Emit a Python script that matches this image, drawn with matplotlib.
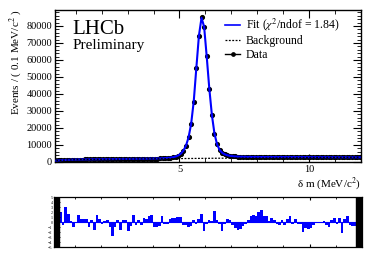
import numpy as np
import matplotlib
matplotlib.use('Agg')
import matplotlib.pyplot as plt
from matplotlib.lines import Line2D
from matplotlib.patches import Rectangle
from matplotlib.ticker import MultipleLocator

plt.rcParams['font.family'] = 'serif'
plt.rcParams['font.serif'] = ['Liberation Serif', 'DejaVu Serif']
plt.rcParams['mathtext.fontset'] = 'stix'

# binning: 0.1 MeV bins from 0.2 to 12.0
bin_lo = 0.2
bin_hi = 12.0
bin_width = 0.1
centers = np.arange(bin_lo + bin_width / 2, bin_hi, bin_width)

data_counts = [
    720, 860, 1030, 1070, 1180, 1200, 1290, 1300,
    1330, 1390, 1390, 1450, 1440, 1490, 1480, 1540, 1530, 1580,
    1560, 1610, 1600, 1650, 1630, 1680, 1660, 1710, 1700, 1740,
    1720, 1770, 1750, 1800, 1790, 1830, 1850, 1850, 1900, 1900,
    1970, 1980, 2070, 2100, 2230, 2310, 2520, 2730, 3160, 3720,
    4850, 6550, 9600, 14350, 22500, 35500, 55400, 74100, 85000, 79400,
    62300, 43000, 27800, 16500, 10400, 6950, 5330, 4370, 3900, 3540,
    3380, 3190, 3130, 3020, 3010, 2930, 2940, 2880, 2900, 2860,
    2880, 2840, 2860, 2830, 2850, 2810, 2840, 2810, 2830, 2800,
    2830, 2790, 2820, 2780, 2810, 2780, 2800, 2770, 2790, 2760,
    2790, 2750, 2780, 2740, 2770, 2740, 2760, 2730, 2750, 2720,
    2750, 2710, 2740, 2700, 2730, 2700, 2720, 2690, 2710, 2680,
]

fit_counts = [
    700, 880, 1000, 1090, 1160, 1220, 1270, 1310,
    1345, 1375, 1405, 1430, 1455, 1478, 1500, 1520, 1540, 1560,
    1578, 1596, 1613, 1630, 1646, 1662, 1678, 1693, 1708, 1723,
    1738, 1753, 1768, 1784, 1800, 1818, 1838, 1860, 1886, 1916,
    1952, 1996, 2050, 2120, 2210, 2330, 2500, 2750, 3130, 3750,
    4800, 6600, 9500, 14400, 22400, 35600, 55200, 74300, 84800, 79600,
    62100, 43200, 27600, 16600, 10300, 7000, 5300, 4400, 3880, 3560,
    3350, 3210, 3110, 3040, 2990, 2950, 2920, 2900, 2885, 2872,
    2862, 2854, 2847, 2841, 2836, 2831, 2827, 2823, 2819, 2815,
    2811, 2807, 2803, 2799, 2795, 2791, 2787, 2783, 2779, 2775,
    2771, 2767, 2763, 2759, 2755, 2751, 2747, 2743, 2739, 2735,
    2731, 2727, 2723, 2719, 2715, 2711, 2707, 2703, 2699, 2695,
]

bkg_counts = [
    650, 830, 950, 1040, 1110, 1170, 1220, 1260,
    1295, 1325, 1355, 1380, 1405, 1428, 1450, 1470, 1490, 1510,
    1528, 1546, 1563, 1580, 1596, 1612, 1628, 1643, 1658, 1673,
    1688, 1702, 1716, 1730, 1744, 1758, 1771, 1784, 1797, 1810,
    1823, 1836, 1849, 1862, 1875, 1888, 1901, 1914, 1927, 1940,
    1953, 1966, 1979, 1992, 2005, 2018, 2031, 2044, 2057, 2070,
    2083, 2096, 2109, 2122, 2135, 2148, 2161, 2174, 2187, 2200,
    2210, 2220, 2230, 2240, 2250, 2260, 2270, 2280, 2290, 2300,
    2310, 2320, 2330, 2340, 2350, 2360, 2370, 2380, 2390, 2400,
    2410, 2420, 2430, 2440, 2450, 2460, 2470, 2480, 2490, 2500,
    2510, 2520, 2530, 2540, 2550, 2560, 2570, 2580, 2590, 2600,
    2610, 2620, 2630, 2640, 2650, 2660, 2670, 2680, 2690, 2700,
]

pulls = [
    1.5, -1.0, 2.0, -0.6, 3.0, 1.6, 0.3, -0.9, 0.0, 1.4,
    0.7, 0.7, 0.6, -1.0, 0.5, -1.5, 1.5, 0.7, -0.3, 0.3,
    0.5, -1.0, -2.7, -1.0, 0.5, -1.5, 0.5, 0.5, -1.7, -0.7,
    1.5, -0.6, 0.5, -0.6, 0.8, 0.7, 1.2, 1.5, -1.0, -1.0,
    -0.8, 1.3, -0.3, -0.3, 0.7, 0.9, 0.9, 1.1, 1.1, -0.6,
    -0.6, -0.9, -0.8, 0.4, -0.3, 0.6, 1.6, -1.7, -0.4, 0.4,
    0.3, 2.2, 0.4, -0.4, -1.7, -0.3, 0.7, 0.4, -0.5, -1.2,
    -1.6, -1.3, -0.8, -0.3, 0.4, 1.3, 1.5, 1.3, 2.0, 2.5,
    1.2, 1.2, 0.2, 0.9, 0.5, -0.4, -0.6, 0.4, -0.5, 0.7,
    1.3, -0.3, 0.6, -0.4, -0.3, -2.0, -1.2, -1.3, -1.2, -0.5,
    -0.2, -0.2, -0.2, 0.3, -0.5, -0.9, 0.4, 0.9, -0.3, 0.8,
    -2.2, 0.6, 1.2, -0.6, -0.7, -0.8, 0.3, 1.1,
]

fig = plt.figure(figsize=(3.82, 2.59), dpi=100)

# main fit panel
ax = fig.add_axes([0.144, 0.375, 0.801, 0.587])
ax.plot(centers, data_counts, 'o', color='black', ms=2.7, zorder=2)
ax.plot(centers, fit_counts, color='blue', lw=1.5, zorder=3)
ax.plot(centers, bkg_counts, color='black', ls=(0, (1.5, 1.2)), lw=0.9, zorder=4)

ax.set_xlim(bin_lo, bin_hi)
ax.set_ylim(0, 89500)
ax.xaxis.set_major_locator(MultipleLocator(5))
ax.xaxis.set_minor_locator(MultipleLocator(1))
ax.yaxis.set_major_locator(MultipleLocator(10000))
ax.yaxis.set_minor_locator(MultipleLocator(2000))
ax.tick_params(which='both', direction='in', top=True, right=True, labelsize=7.5, pad=2)
ax.tick_params(which='major', length=6)
ax.tick_params(which='minor', length=3)
for s in ax.spines.values():
    s.set_linewidth(1.0)

ax.set_ylabel('Events / ( 0.1 MeV/c$^{2}$ )', loc='top', fontsize=8, labelpad=2)
ax.set_xlabel('δ m (MeV/c$^{2}$)', loc='right', fontsize=8, labelpad=1)

ax.text(0.058, 0.93, 'LHCb', transform=ax.transAxes, fontsize=15, va='top', ha='left')
ax.text(0.058, 0.81, 'Preliminary', transform=ax.transAxes, fontsize=11, va='top', ha='left')

handles = [
    Line2D([], [], color='blue', lw=1.2),
    Line2D([], [], color='black', ls=(0, (1.5, 1.2)), lw=0.9),
    Line2D([], [], color='black', lw=1.0, marker='o', ms=2.4),
]
labels = ['Fit ($\\chi^{2}$/ndof = 1.84)', 'Background', 'Data']
ax.legend(handles, labels, loc='upper left', bbox_to_anchor=(0.555, 0.955), frameon=False,
          fontsize=8.5, handlelength=1.3, handletextpad=0.5, labelspacing=0.15,
          borderpad=0, borderaxespad=0)

# pull panel
rax = fig.add_axes([0.141, 0.046, 0.806, 0.193])
rax.bar(centers, pulls, width=bin_width, color='blue', linewidth=0)
rax.axhline(0, color='blue', lw=0.8)
rax.set_xlim(bin_lo, bin_hi)
rax.set_ylim(-5, 5)
rax.set_yticks(np.arange(-5, 6, 1))
rax.xaxis.set_major_locator(MultipleLocator(5))
rax.xaxis.set_minor_locator(MultipleLocator(1))
rax.set_xticklabels([])
rax.tick_params(which='both', direction='in', top=True, right=True, labelsize=3, pad=1)
rax.tick_params(axis='y', which='major', length=4, width=0.6)
rax.tick_params(axis='x', which='major', length=2.5)
rax.tick_params(axis='x', which='minor', length=1.5)
for s in rax.spines.values():
    s.set_linewidth(0.9)
rax.add_patch(Rectangle((0, 0), 0.016, 1, transform=rax.transAxes, color='black', zorder=5))
rax.add_patch(Rectangle((0.982, 0), 0.018, 1, transform=rax.transAxes, color='black', zorder=5))

plt.savefig('out.png', dpi=100)
